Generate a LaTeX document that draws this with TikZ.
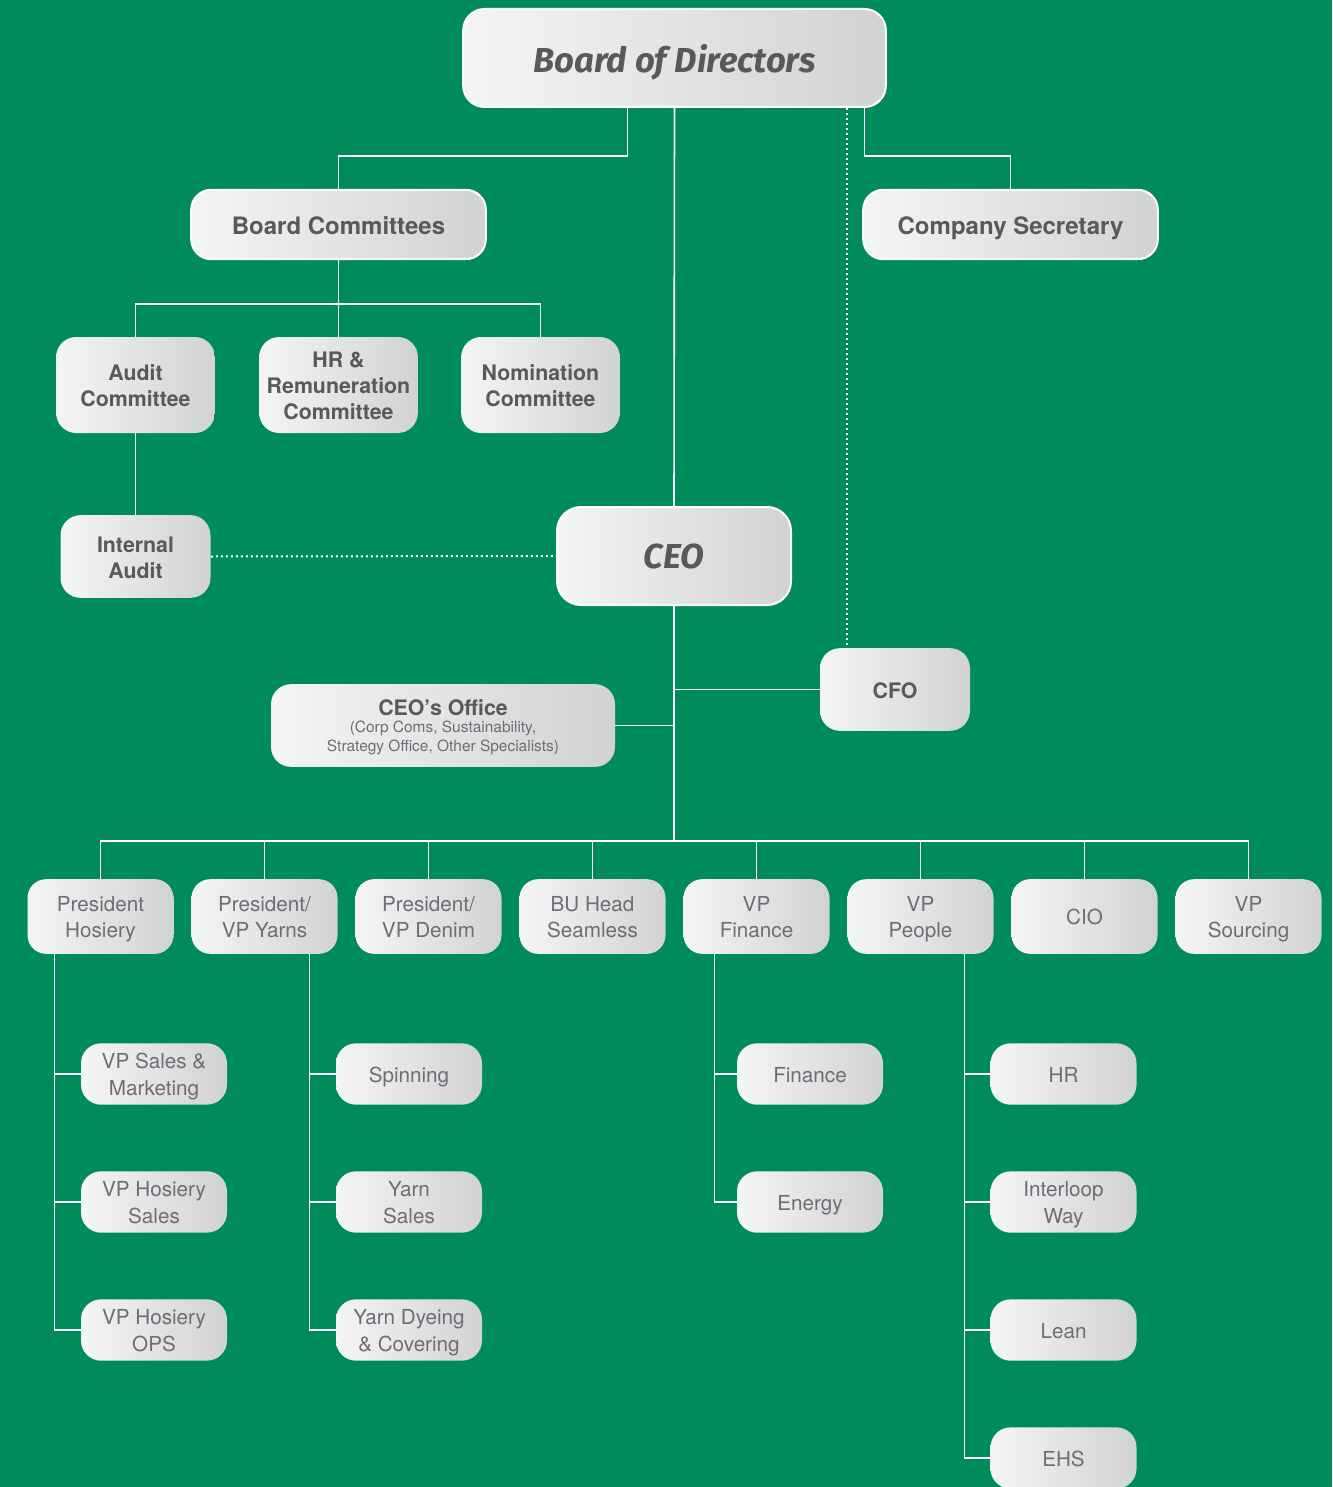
\documentclass[tikz,border=0pt]{standalone}
\usepackage{fontspec}
\setmainfont{TeX Gyre Heros}
\newfontfamily\titlefont{Fira Sans}
\usetikzlibrary{calc}
\definecolor{bg}{HTML}{008C5A}
\definecolor{boxL}{HTML}{F4F5F7}
\definecolor{boxR}{HTML}{D0D2D3}
\definecolor{txtD}{HTML}{58595B}
\definecolor{txtL}{HTML}{6D6E71}
% lowered multi-line text block
\newcommand{\lt}[1]{\raisebox{-2pt}[\height][\depth]{\begin{tabular}{@{}c@{}}#1\end{tabular}}}
\newcommand{\bt}[1]{\raisebox{-2.5pt}[\height][\depth]{\begin{tabular}{@{}c@{}}#1\end{tabular}}}
\newcommand{\bbt}[1]{\raisebox{-3.4pt}[\height][\depth]{\begin{tabular}{@{}c@{}}#1\end{tabular}}}
\begin{document}
\begin{tikzpicture}[x=0.75pt,y=-0.75pt,
  box/.style={rounded corners=15pt, left color=boxL, right color=boxR, inner sep=0pt, text=txtD},
  topbox/.style={box, draw=white, line width=1.5pt},
  titletext/.style={font=\titlefont\bfseries\itshape\fontsize{26}{30}\selectfont, text depth=-3pt},
  boldtext/.style={font=\bfseries\fontsize{16}{19.5}\selectfont},
  bigbold/.style={font=\bfseries\fontsize{18}{21}\selectfont},
  lighttext/.style={font=\fontsize{15.5}{20}\selectfont, text=txtL},
  rowbox/.style={box, lighttext, minimum width=109.5pt, minimum height=56pt, rounded corners=14pt},
  subbox/.style={box, lighttext, minimum width=109.5pt, minimum height=46pt, rounded corners=15pt},
  conn/.style={draw=white, line width=1.2pt},
  dotconn/.style={draw=white, line width=1.5pt, dash pattern=on 1.5pt off 2.25pt}]
\useasboundingbox (0,0) rectangle (1332,1487);
\fill[bg] (0,0) rectangle (1332,1487);

% top level
\node[topbox, titletext, minimum width=317pt, minimum height=73.5pt, rounded corners=16pt] (bod) at (674.5,58) {Board of Directors};
\node[topbox, bigbold, minimum width=221pt, minimum height=52pt] (bc) at (338.5,224.5) {\bbt{Board Committees}};
\node[topbox, bigbold, minimum width=221pt, minimum height=52pt] (cs) at (1010.5,224.5) {\bbt{Company Secretary}};

% committees
\node[box, boldtext, minimum width=119pt, minimum height=72pt] (ac) at (135.5,385) {\bt{Audit\\Committee}};
\node[box, boldtext, minimum width=119pt, minimum height=72pt] (hr) at (338.5,385) {\bt{HR \&\\Remuneration\\Committee}};
\node[box, boldtext, minimum width=119pt, minimum height=72pt] (nc) at (540.5,385) {\bt{Nomination\\Committee}};
\node[box, boldtext, minimum width=112.5pt, minimum height=62pt] (ia) at (135.5,556.5) {\bt{Internal\\Audit}};

% CEO
\node[topbox, titletext, minimum width=175.5pt, minimum height=73.5pt, rounded corners=18pt, text depth=-4.5pt] (ceo) at (674,556) {CEO};
\node[box, boldtext, minimum width=112.5pt, minimum height=62pt] (cfo) at (895,689.5) {\bt{CFO}};
\node[box, align=center, minimum width=258pt, minimum height=62pt, text depth=-2pt] (co) at (443,725.5) {{\bfseries\fontsize{16}{17}\selectfont CEO’s Office}\\[1.25pt]{\fontsize{11.6}{15}\selectfont\color{txtL}(Corp Coms, Sustainability,}\\[2.25pt]{\fontsize{11.6}{15}\selectfont\color{txtL}Strategy Office, Other Specialists)}};

% row
\node[rowbox] (p1) at (100.5,916.5) {\lt{President\\Hosiery}};
\node[rowbox] (p2) at (264.5,916.5) {\lt{President/\\VP Yarns}};
\node[rowbox] (p3) at (428.5,916.5) {\lt{President/\\VP Denim}};
\node[rowbox] (p4) at (592.5,916.5) {\lt{BU Head\\Seamless}};
\node[rowbox] (p5) at (756.5,916.5) {\lt{VP\\Finance}};
\node[rowbox] (p6) at (920.5,916.5) {\lt{VP\\People}};
\node[rowbox] (p7) at (1084.5,916.5) {\lt{CIO}};
\node[rowbox] (p8) at (1248.5,916.5) {\lt{VP\\Sourcing}};

% sub boxes
\node[subbox] (s11) at (154,1074) {\lt{VP Sales \&\\Marketing}};
\node[subbox] (s12) at (154,1202) {\lt{VP Hosiery\\Sales}};
\node[subbox] (s13) at (154,1330) {\lt{VP Hosiery\\OPS}};
\node[subbox] (s21) at (409,1074) {\lt{Spinning}};
\node[subbox] (s22) at (409,1202) {\lt{Yarn\\Sales}};
\node[subbox] (s23) at (409,1330) {\lt{Yarn Dyeing\\\& Covering}};
\node[subbox] (s51) at (810,1074) {\lt{Finance}};
\node[subbox] (s52) at (810,1202) {\lt{Energy}};
\node[subbox] (s61) at (1063.5,1074) {\lt{HR}};
\node[subbox] (s62) at (1063.5,1202) {\lt{Interloop\\Way}};
\node[subbox] (s63) at (1063.5,1330) {\lt{Lean}};
\node[subbox] (s64) at (1063.5,1458) {\lt{EHS}};

% connectors from board
\draw[conn] (bod.south) ++(-47,0) -- ++(0,48) -| (bc.north);
\draw[conn] (bod.south) ++(190,0) -- ++(0,48) -| (cs.north);
\draw[conn] (bod.south) -- (ceo.north);
\path (bod.south) ++(172,0) coordinate (d1);
\draw[dotconn] (d1) -- (d1 |- cfo.north);

% committees
\draw[conn] (bc.south) -- ++(0,44) coordinate (bcbus);
\draw[conn] (ac.north) |- (bcbus) -| (nc.north);
\draw[conn] (bcbus) -- (hr.north);
\draw[conn] (ac.south) -- (ia.north);
\draw[dotconn] (ia.east) -- (ceo.west);

% CEO
\draw[conn] (ceo.south) -- ++(0,235) coordinate (bus);
\draw[conn] (cfo.west) -- (cfo.west -| ceo.south);
\draw[conn] (co.east) -- (co.east -| ceo.south);
\draw[conn] (p1.north) |- (bus) -| (p8.north);
\foreach \p in {p2,p3,p4,p5,p6,p7} \draw[conn] (\p.north) -- (\p.north |- bus);

% sub-branches
\path (p1.south) ++(-46,0) coordinate (v1);
\foreach \s in {s11,s12,s13} \draw[conn] (v1) |- (\s.west);
\path (p2.south) ++(45,0) coordinate (v2);
\foreach \s in {s21,s22,s23} \draw[conn] (v2) |- (\s.west);
\path (p5.south) ++(-42,0) coordinate (v5);
\foreach \s in {s51,s52} \draw[conn] (v5) |- (\s.west);
\path (p6.south) ++(44,0) coordinate (v6);
\foreach \s in {s61,s62,s63,s64} \draw[conn] (v6) |- (\s.west);
\end{tikzpicture}
\end{document}
